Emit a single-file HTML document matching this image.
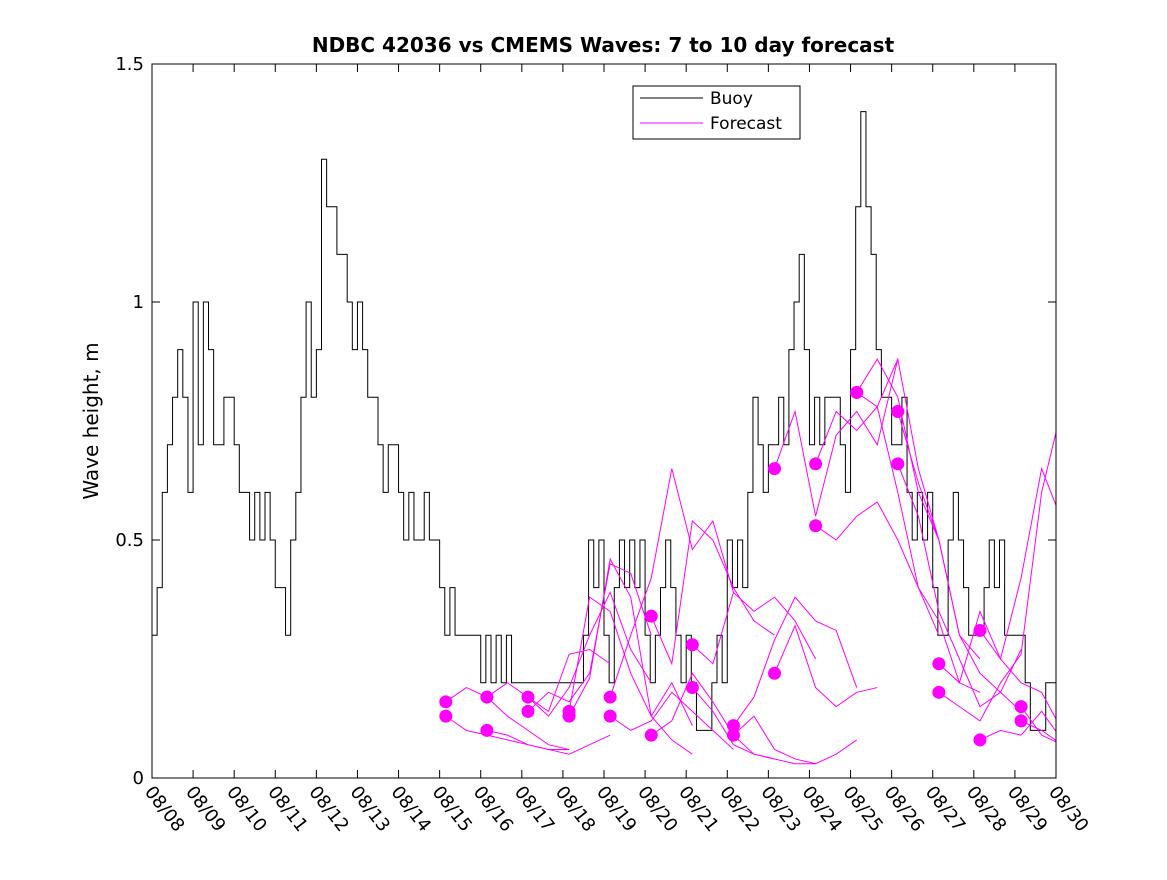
<!DOCTYPE html>
<html><head><meta charset="utf-8"><style>
body{margin:0;background:#fff}
svg{font-family:"DejaVu Sans","Liberation Sans",sans-serif}
</style></head><body>
<svg id="chart" width="1167" height="875" xmlns="http://www.w3.org/2000/svg">
<rect width="1167" height="875" fill="#fff"/>
<defs><clipPath id="pc"><rect x="152" y="64" width="904" height="714"/></clipPath></defs>
<text x="603" y="52" text-anchor="middle" font-size="20" font-weight="bold">NDBC 42036 vs CMEMS Waves: 7 to 10 day forecast</text>
<text transform="translate(98,421) rotate(-90)" text-anchor="middle" font-size="20">Wave height, m</text>
<g id="axes"></g>
<g id="series" clip-path="url(#pc)"></g>
<rect x="152" y="64" width="904" height="714" fill="none" stroke="#000" stroke-width="1"/>
<g>
<rect x="633" y="86" width="167" height="53" fill="#fff" stroke="#000"/>
<line x1="640" y1="98" x2="703" y2="98" stroke="#000"/>
<text x="710" y="104" font-size="17">Buoy</text>
<line x1="640" y1="123" x2="703" y2="123" stroke="#f0f"/>
<text x="710" y="129" font-size="17">Forecast</text>
</g>
</svg>
<script>
const xTickLabels=["08/08","08/09","08/10","08/11","08/12","08/13","08/14","08/15","08/16","08/17","08/18","08/19","08/20","08/21","08/22","08/23","08/24","08/25","08/26","08/27","08/28","08/29","08/30"];
const yTicks=[0,0.5,1,1.5];
const yTickLabels=["0","0.5","1","1.5"];
const buoy=[
0.3,0.4,0.6,0.7,0.8,0.9,0.8,0.6,
1.0,0.7,1.0,0.9,0.7,0.7,0.8,0.8,
0.7,0.6,0.6,0.5,0.6,0.5,0.6,0.5,
0.4,0.4,0.3,0.5,0.6,0.8,1.0,0.8,
0.9,1.3,1.2,1.2,1.1,1.1,1.0,0.9,
1.0,0.9,0.8,0.8,0.7,0.6,0.7,0.7,
0.6,0.5,0.6,0.5,0.5,0.6,0.5,0.5,
0.4,0.3,0.4,0.3,0.3,0.3,0.3,0.3,
0.2,0.3,0.2,0.3,0.2,0.3,0.2,0.2,
0.2,0.2,0.2,0.2,0.2,0.2,0.2,0.2,
0.2,0.2,0.2,0.2,0.3,0.5,0.4,0.5,
0.3,0.2,0.4,0.5,0.4,0.5,0.4,0.5,
0.3,0.2,0.3,0.4,0.5,0.4,0.3,0.2,
0.3,0.2,0.1,0.1,0.1,0.2,0.3,0.2,
0.5,0.4,0.5,0.4,0.6,0.8,0.7,0.6,
0.7,0.7,0.8,0.7,0.9,1.0,1.1,0.9,
0.7,0.8,0.7,0.8,0.8,0.8,0.7,0.6,
0.9,1.2,1.4,1.2,1.1,0.9,0.8,0.8,
0.7,0.7,0.8,0.6,0.5,0.6,0.5,0.6,
0.4,0.3,0.3,0.5,0.6,0.5,0.4,0.3,
0.3,0.3,0.4,0.5,0.4,0.5,0.3,0.3,
0.3,0.3,0.2,0.1,0.1,0.1,0.2,0.2];
const fcStartDays=[7.15,8.15,9.15,10.15,11.15,12.15,13.15,14.15,15.15,16.15,17.15,18.15,19.15,20.15,21.15];
const fcA=[
[0.16,0.19,0.17,0.13,0.10,0.07,0.06],
[0.17,0.20,0.17,0.14,0.26,0.27,0.24],
[0.17,0.13,0.19,0.30,0.39,0.27,0.20],
[0.14,0.38,0.35,0.22,0.13,0.08,0.05],
[0.17,0.30,0.42,0.65,0.48,0.54,0.39],
[0.34,0.24,0.54,0.50,0.40,0.33,0.30],
[0.28,0.24,0.39,0.35,0.38,0.33,0.25],
[0.11,0.17,0.29,0.38,0.33,0.31,0.19],
[0.65,0.77,0.55,0.72,0.77,0.70,0.88],
[0.66,0.77,0.73,0.78,0.88,0.65,0.50],
[0.81,0.88,0.80,0.60,0.50,0.30,0.25],
[0.77,0.62,0.50,0.30,0.22,0.18,0.27],
[0.24,0.20,0.35,0.25,0.42,0.65,0.54],
[0.31,0.25,0.20,0.18,0.10,0.28,0.22],
[0.15,0.09,0.07,0.25]];
const fcB=[
[0.13,0.10,0.09,0.08,0.07,0.06,0.06],
[0.10,0.09,0.07,0.06,0.05,0.07,0.09],
[0.14,0.18,0.16,0.22,0.45,0.43,0.30],
[0.13,0.21,0.46,0.38,0.13,0.20,0.11],
[0.13,0.10,0.12,0.18,0.14,0.10,0.06],
[0.09,0.12,0.22,0.16,0.09,0.05,0.04],
[0.19,0.14,0.07,0.05,0.04,0.03,0.03],
[0.09,0.13,0.06,0.04,0.03,0.05,0.08],
[0.22,0.32,0.19,0.15,0.18,0.19],
[0.53,0.50,0.55,0.58,0.50,0.40,0.30],
[0.81,0.78,0.60,0.40,0.33,0.20,0.18],
[0.66,0.55,0.35,0.25,0.15,0.18,0.14],
[0.18,0.15,0.12,0.20,0.26,0.60,0.78],
[0.08,0.10,0.09,0.14,0.08,0.16,0.18],
[0.12,0.10,0.07,0.10]];
const NS="http://www.w3.org/2000/svg";
const X0=152,X1=1056,Y0=778,Y1=64;
const xs=d=>X0+(X1-X0)*d/22;
const ys=v=>Y0-(Y0-Y1)*v/1.5;
const axes=document.getElementById('axes');
const ser=document.getElementById('series');
function mk(tag,attrs,parent){const e=document.createElementNS(NS,tag);for(const k in attrs)e.setAttribute(k,attrs[k]);parent.appendChild(e);return e;}
xTickLabels.forEach((lab,i)=>{
 const x=xs(i);
 const t=mk('line',{x1:x,y1:Y0,x2:x,y2:Y0-8,stroke:'#000'},axes);
 
 
 mk('line',{x1:x,y1:Y1,x2:x,y2:Y1+8,stroke:'#000'},axes);
 const tx=mk('text',{x:0,y:0,'font-size':18,transform:`translate(${x-8},${Y0+14}) rotate(52)`},axes);
 tx.textContent=lab;
 
 
});
yTicks.forEach((v,i)=>{
 const y=ys(v);
 mk('line',{x1:X0,y1:y,x2:X0+8,y2:y,stroke:'#000'},axes);
 mk('line',{x1:X1,y1:y,x2:X1-8,y2:y,stroke:'#000'},axes);
 const tx=mk('text',{x:X0-8,y:y+6,'font-size':18,'text-anchor':'end'},axes);
 tx.textContent=yTickLabels[i];
 
 
});
let d='';
buoy.forEach((v,i)=>{const x=xs(i/8),x2=xs((i+1)/8),y=ys(v);d+=(i?'L':'M')+x+' '+y+'L'+x2+' '+y;});
const bl=mk('path',{d:d,fill:'none',stroke:'#000','stroke-width':1},ser);


function fc(arr,t0){
 const p=arr.map((v,j)=>(j?'L':'M')+xs(t0+j*0.5)+' '+ys(v)).join('');
 const l=mk('path',{d:p,fill:'none',stroke:'#f0f','stroke-width':1},ser);
 
 
 const c=mk('circle',{cx:xs(t0),cy:ys(arr[0]),r:6.5,fill:'#f0f'},ser);
 
 
}
fcStartDays.forEach((t0,k)=>{fc(fcA[k],t0);fc(fcB[k],t0);});
</script>
</body></html>
